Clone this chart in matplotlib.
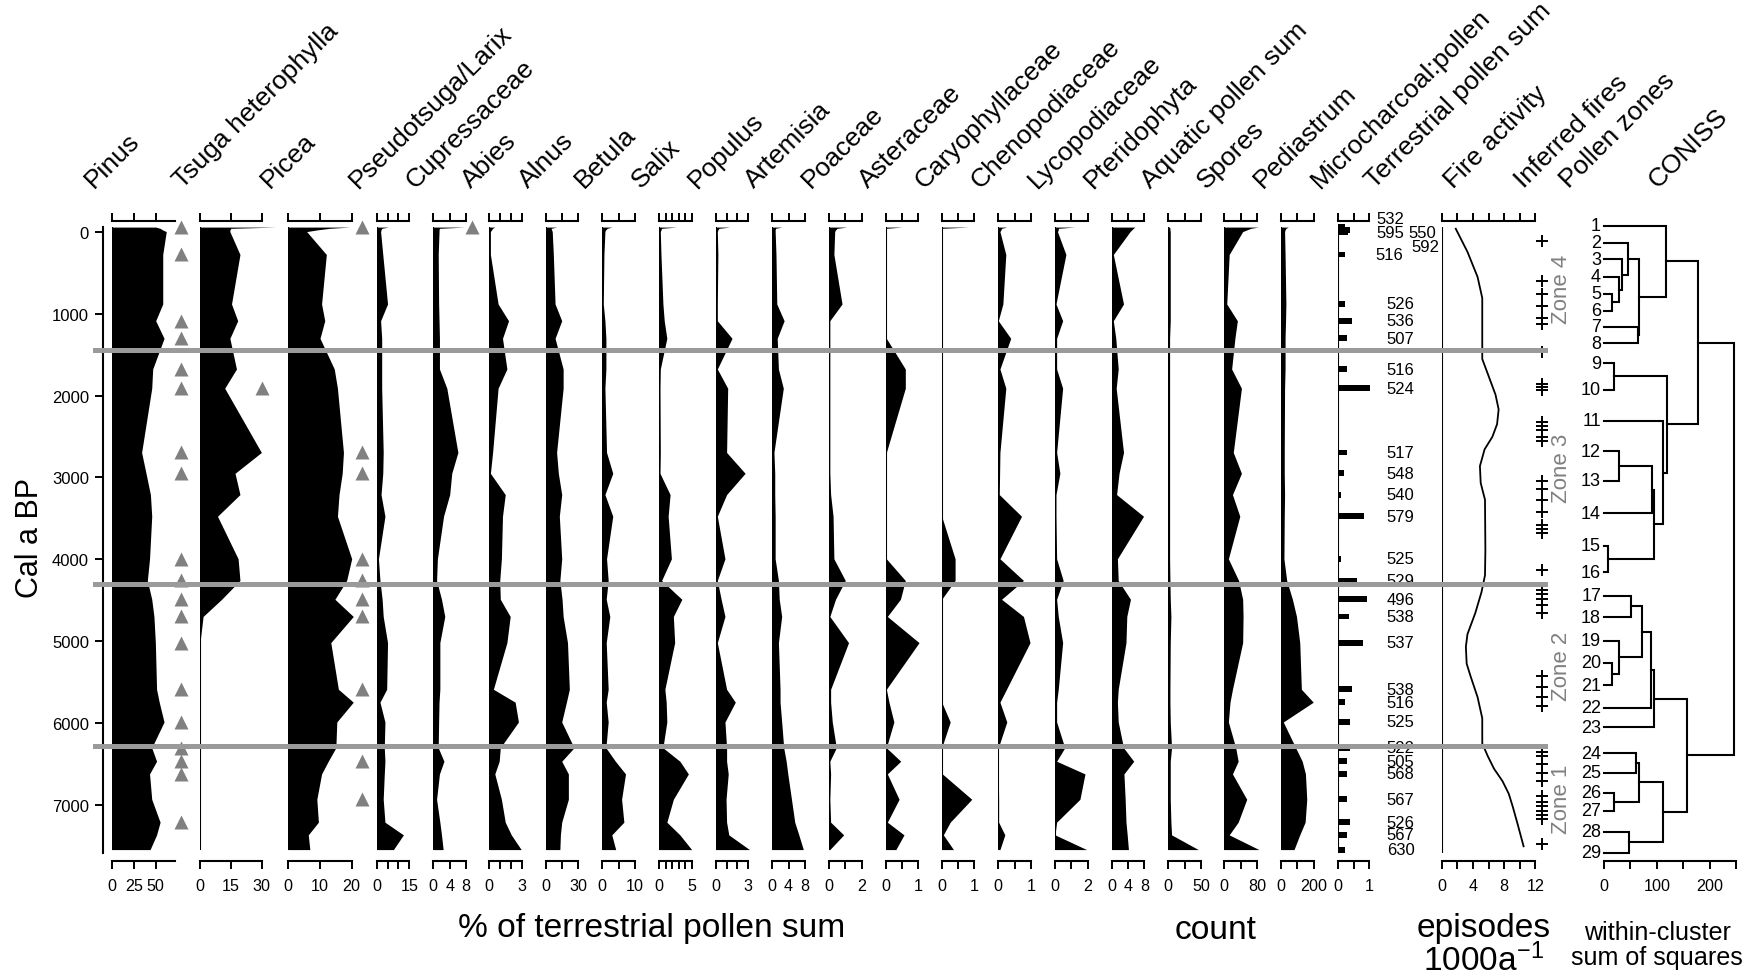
import matplotlib
matplotlib.use("Agg")
import matplotlib.pyplot as plt
from matplotlib import font_manager as fm
from matplotlib.transforms import blended_transform_factory as blend

# ---------------------------------------------------------------- data
ages = [-60, -45, -25, -5, 275, 880, 1085, 1300, 1675, 1910, 2695, 2950, 3210, 3475,
        3995, 4260, 4490, 4700, 5020, 5590, 5748, 5990, 6305, 6470, 6625, 6935, 7215,
        7370, 7550]

pinus = [50, 55, 58, 62, 58, 58, 50, 59.5, 46.6, 45.5, 34, 39, 44, 45.5, 43, 40.5, 45.5,
         48, 49.6, 51, 54, 59.5, 45.5, 51, 43, 45.5, 55, 51, 43.6]
tsuga = [37, 15, 14.5, 14.5, 19.4, 15.3, 18.3, 14.5, 17.7, 12, 29.8, 17, 19.4, 8.5, 18.5,
         19.4, 10.5, 1.5, 0, 0, 0, 0, 0, 0, 0, 0, 0, 0, 0]
picea = [19.5, 13, 9, 5.8, 12, 10.5, 11.5, 10, 14.5, 15.5, 17.4, 17, 16, 15.5, 20, 18.4,
         14.7, 20.5, 13.4, 15.8, 20.5, 15.3, 15, 12.6, 10.5, 9, 9.5, 6.3, 6.8]
pseudotsuga = [5.4, 2.3, 2.0, 1.8, 2.8, 5.0, 1.8, 2.3, 2.3, 2.3, 3.0, 2.8, 2.0, 3.8, 0.8,
               1.5, 2.5, 3.0, 5.0, 4.6, 1.5, 3.8, 3.5, 3.8, 3.5, 3.0, 3.8, 12.3, 7.7]
cupressaceae = [7.6, 1.5, 1.4, 1.4, 1.2, 1.3, 1.4, 1.5, 1.5, 3.3, 6.0, 4.5, 4.0, 2.5, 1.0,
                0.8, 2.0, 2.8, 1.6, 1.6, 1.4, 1.3, 1.2, 2.6, 1.5, 0.8, 1.6, 2.0, 2.4]
abies = [0.5, 0.3, 0.2, 0.1, 0.1, 0.8, 1.75, 1.2, 1.6, 0.8, 0.3, 0.1, 1.45, 1.2, 1.1, 0.95,
         1.0, 1.9, 1.6, 0.37, 2.35, 2.65, 1.0, 0.9, 0.5, 1.1, 1.45, 2.0, 2.9]
alnus = [10, 5, 5.5, 6, 7, 8.6, 14.7, 8.6, 16, 16, 10, 11.6, 14.7, 12.5, 14.7, 13, 15, 16,
         20, 21.7, 19, 14.7, 26, 14.7, 20.8, 20.8, 14.7, 13.5, 13]
betula = [2.9, 1.5, 1.0, 0.8, 0.5, 0.3, 0.8, 1.1, 1.1, 0.8, 1.3, 3.2, 0.8, 3.2, 1.3, 1.8,
          1.2, 2.3, 1.2, 1.8, 1.2, 1.8, 1.1, 4.0, 7.1, 5.9, 6.6, 2.9, 4.1]
salix = [2.7, 0.4, 0.3, 0.2, 0.3, 0.6, 0.8, 1.2, 0.2, 0.15, 0.2, 0.15, 1.7, 1.4, 1.9, 0.4,
         3.5, 2.2, 2.4, 0.9, 1.1, 1.2, 0.6, 3.2, 4.5, 2.2, 1.2, 3.2, 5.0]
populus = [1.3, 0.3, 0.2, 0.15, 0.2, 0.15, 0.15, 1.5, 0.15, 1.1, 1.0, 2.7, 1.0, 0.15, 0.85,
           0.15, 0.5, 0.85, 0.15, 1.0, 1.8, 0.85, 1.0, 1.0, 1.15, 0.95, 1.0, 1.2, 3.1]
artemisia = [2.3, 0.8, 0.7, 0.7, 0.9, 1.1, 2.9, 1.2, 1.5, 2.7, 0.4, 0.6, 0.6, 0.7, 0.7, 1.5,
             1.7, 2.3, 1.5, 1.9, 1.9, 2.3, 2.8, 3.4, 3.8, 4.7, 5.5, 6.5, 7.6]
poaceae = [1.1, 0.5, 0.4, 0.35, 0.3, 0.8, 0.05, 0.05, 0.05, 0.05, 0.05, 0.05, 0.1, 0.25, 0.3,
           1.0, 0.4, 0.05, 1.2, 0.1, 0.1, 0.2, 0.45, 0.05, 0.1, 0.05, 0.1, 0.9, 0.05]
asteraceae = [0.5, 0.02, 0.02, 0.02, 0.02, 0.02, 0.02, 0.02, 0.6, 0.6, 0.02, 0.02, 0.02,
              0.02, 0.02, 0.6, 0.45, 0.05, 1.02, 0.02, 0.1, 0.25, 0.02, 0.46, 0.05, 0.41,
              0.05, 0.56, 0.31]
caryophyllaceae = [0.82, 0, 0, 0, 0, 0, 0, 0, 0, 0, 0, 0, 0, 0, 0.41, 0.41, 0, 0, 0, 0, 0,
                   0.26, 0, 0, 0.02, 0.92, 0.26, 0.05, 0.36]
chenopodiaceae = [0.26, 0.1, 0.08, 0.05, 0.23, 0.14, 0.0, 0.38, 0.05, 0.23, 0.05, 0.04,
                  0.03, 0.71, 0.05, 0.77, 0.1, 0.77, 0.97, 0.25, 0.05, 0.26, 0.0, 0.0, 0.0,
                  0.01, 0.01, 0.2, 0.05]
lycopodiaceae = [1.2, 0.2, 0.2, 0.15, 0.67, 0.06, 0.47, 0.1, 0.1, 0.47, 0.1, 0.3, 0.06,
                 0.06, 0.1, 0.5, 0.1, 0.2, 0.47, 0.2, 0.1, 0.1, 0.6, 0.1, 1.84, 1.53, 0.1,
                 0.0, 1.94]
pteridophyta = [5.7, 5.3, 4.9, 4.5, 0.4, 2.9, 0.4, 1.0, 1.6, 1.1, 2.9, 1.8, 1.2, 7.8, 1.4,
                1.6, 4.6, 3.7, 3.5, 1.6, 1.4, 1.6, 2.9, 5.4, 3.0, 3.3, 3.5, 3.8, 4.1]
aquatic = [2, 2.5, 2.5, 3, 3, 3, 3, 2, 2, 2, 2, 2, 2, 2, 2, 2.5, 3, 4, 3, 2.5, 2.5, 3, 5, 3,
           3, 3, 4, 5, 46]
spores = [83, 65, 55, 45, 12, 6, 32, 26, 18, 42, 22, 42, 20, 38, 10, 35, 45, 46, 45, 20, 14,
          10, 28, 34, 20, 55, 34, 12, 85]
pediastrum = [45, 30, 25, 22, 25, 30, 28, 25, 25, 22, 20, 20, 22, 20, 18, 35, 70, 95, 115,
              125, 198, 14, 90, 130, 150, 158, 148, 115, 80]
microcharcoal = [0.22, 0.22, 0.38, 0.3, 0.22, 0.22, 0.43, 0.27, 0.27, 1.02, 0.27, 0.19,
                 0.09, 0.83, 0.09, 0.6, 0.92, 0.34, 0.81, 0.43, 0.22, 0.38, 0.38, 0.27,
                 0.27, 0.27, 0.38, 0.27, 0.22]
terrestrial_sum = [532, 595, 550, 592, 516, 526, 536, 507, 516, 524, 517, 548, 540, 579,
                   525, 529, 496, 538, 537, 538, 516, 525, 522, 505, 568, 567, 526, 567, 630]

# samples (0-based) marked with grey triangles
pinus_marks = [0, 4, 6, 7, 8, 9, 10, 11, 14, 15, 16, 17, 18, 19, 21, 22, 23, 24, 26]
tsuga_marks = [9]
picea_marks = [0, 10, 11, 14, 15, 16, 17, 19, 23, 25]
cupress_marks = [0]

fire_ages = [-40, 242, 550, 807, 1553, 1732, 1989, 2169, 2349, 2503, 2657, 2862, 3068,
             3273, 3889, 4197, 4403, 4660, 4917, 5071, 5277, 5430, 5687, 5944, 6252, 6406,
             6560, 6714, 6868, 7022, 7227, 7510]
fire_activity = [1.8, 3.3, 4.6, 5.2, 5.2, 5.9, 6.9, 7.3, 7.1, 6.5, 5.5, 4.9, 5.0, 5.55,
                 5.6, 5.55, 5.1, 4.3, 3.3, 3.1, 3.2, 3.7, 4.6, 5.2, 5.2, 5.9, 6.7, 7.8, 8.6,
                 9.1, 9.7, 10.5]
inferred_fires = [114, 601, 755, 900, 1054, 1126, 1465, 1860, 1896, 1937, 2323, 2374, 2425,
                  2503, 2554, 3042, 3144, 3273, 3427, 3581, 3632, 3674, 4136, 4378, 4429,
                  4481, 4558, 4660, 5430, 5559, 5688, 5790, 6354, 6406, 6509, 6611, 6715,
                  6894, 6971, 7022, 7073, 7125, 7176, 7484]

zone_bounds = [1445, 4300, 6285]
zone_names = ["Zone 4", "Zone 3", "Zone 2", "Zone 1"]

leaf_ages = [-76, 130, 335, 550, 756, 961, 1157, 1362, 1604, 1927, 2307, 2682, 3042, 3438,
             3838, 4162, 4444, 4711, 4994, 5266, 5543, 5815, 6056, 6370, 6611, 6858, 7073,
             7330, 7588]
# merges: [child a, child b, height]; ids >= 29 are earlier merges
merges = [[4, 5, 14.6], [3, 29, 29], [2, 30, 33.5], [1, 31, 46], [6, 7, 65],
          [32, 33, 66.9], [0, 34, 117.4], [8, 9, 19.5], [11, 12, 29], [37, 13, 90.3],
          [14, 15, 8.1], [38, 39, 94.7], [10, 40, 111.2], [36, 41, 118.7], [35, 42, 178.6],
          [16, 17, 50.6], [19, 20, 14.6], [18, 45, 29], [44, 46, 71.4], [47, 21, 88.4],
          [48, 22, 94.7], [23, 24, 60.6], [25, 26, 19.5], [50, 51, 66.9], [27, 28, 47.9],
          [52, 53, 112.3], [49, 54, 156.6], [43, 55, 246.2]]

# ---------------------------------------------------------------- style
W, H = 1758, 979
TOP_PX, BOT_PX = 222, 862
Y0_PX, PX_PER_YR = 233, 0.0818
YLIM = ((BOT_PX - Y0_PX) / PX_PER_YR, (TOP_PX - Y0_PX) / PX_PER_YR)


def has_font(name):
    try:
        fm.findfont(fm.FontProperties(family=name), fallback_to_default=False)
        return True
    except Exception:
        return False


REG = "Liberation Sans"
HAVE_NARROW = has_font("Liberation Sans Narrow")
NARROW = "Liberation Sans Narrow" if HAVE_NARROW else REG
NS = 1.0 if HAVE_NARROW else 0.86   # size factor when narrow face is missing
plt.rcParams["font.family"] = [REG, "DejaVu Sans"]
plt.rcParams["mathtext.fontset"] = "custom"
plt.rcParams["mathtext.rm"] = NARROW
plt.rcParams["mathtext.it"] = NARROW
plt.rcParams["mathtext.bf"] = NARROW

LW = 1.5
GREY = "#808080"

fig = plt.figure(figsize=(W / 100, H / 100), dpi=100)


def add_panel(left_px, width_px):
    ax = fig.add_axes([left_px / W, 1 - BOT_PX / H, width_px / W, (BOT_PX - TOP_PX) / H])
    ax.set_ylim(*YLIM)
    ax.patch.set_visible(False)
    ax.set_yticks([])
    return ax


def style_bracket(ax, ticks, labels, top=True):
    ax.spines["left"].set_visible(False)
    ax.spines["right"].set_visible(False)
    ax.spines["top"].set_visible(top)
    for s in ("top", "bottom"):
        ax.spines[s].set_linewidth(LW)
    ax.set_xticks(ticks)
    ax.set_xticklabels(labels, fontfamily=NARROW, fontsize=13.5 * NS)
    ax.tick_params(axis="x", top=top, bottom=True, labeltop=False, labelbottom=True,
                   direction="out", length=6, width=1.4, pad=6.5)


# header, values, zero_px, px per unit, axis max, ticks, tick labels, triangles
panels = [
    ("Pinus", pinus, 111.7, 0.88, 72, [0, 25, 50], ["0", "25", "50"], (pinus_marks, 69)),
    ("Tsuga heterophylla", tsuga, 200, 2.06, 30, [0, 15, 30], ["0", "15", "30"], (tsuga_marks, 62)),
    ("Picea", picea, 288.3, 3.17, 20, [0, 10, 20], ["0", "10", "20"], (picea_marks, 73.4)),
    ("Pseudotsuga/Larix", pseudotsuga, 376.7, 2.17, 15, [0, 5, 10, 15], ["0", "", "", "15"], None),
    ("Cupressaceae", cupressaceae, 433.3, 4.1, 8, [0, 4, 8], ["0", "4", "8"], (cupress_marks, 38.4)),
    ("Abies", abies, 489.3, 11.0, 3, [0, 1, 2, 3], ["0", "", "", "3"], None),
    ("Alnus", alnus, 545.7, 1.09, 30, [0, 15, 30], ["0", "", "30"], None),
    ("Betula", betula, 602.3, 3.27, 10, [0, 5, 10], ["0", "", "10"], None),
    ("Salix", salix, 659, 6.53, 5, [0, 1, 2, 3, 4, 5], ["0", "", "", "", "", "5"], None),
    ("Populus", populus, 715.7, 10.9, 3, [0, 1, 2, 3], ["0", "", "", "3"], None),
    ("Artemisia", artemisia, 772.3, 4.08, 8, [0, 4, 8], ["0", "4", "8"], None),
    ("Poaceae", poaceae, 829, 16.3, 2, [0, 1, 2], ["0", "", "2"], None),
    ("Asteraceae", asteraceae, 885.7, 32.7, 1, [0, 0.5, 1], ["0", "", "1"], None),
    ("Caryophyllaceae", caryophyllaceae, 941.7, 32.7, 1, [0, 0.5, 1], ["0", "", "1"], None),
    ("Chenopodiaceae", chenopodiaceae, 998.3, 32.7, 1, [0, 0.5, 1], ["0", "", "1"], None),
    ("Lycopodiaceae", lycopodiaceae, 1055, 16.3, 2, [0, 1, 2], ["0", "", "2"], None),
    ("Pteridophyta", pteridophyta, 1111.7, 4.08, 8, [0, 4, 8], ["0", "4", "8"], None),
    ("Aquatic pollen sum", aquatic, 1168.3, 0.653, 50, [0, 25, 50], ["0", "", "50"], None),
    ("Spores", spores, 1224.3, 0.408, 80, [0, 40, 80], ["0", "", "80"], None),
    ("Pediastrum", pediastrum, 1281, 0.163, 200, [0, 100, 200], ["0", "", "200"], None),
]

HEADER_Y = 189
HEADER_KW = dict(rotation=45, rotation_mode="anchor", ha="left", va="baseline",
                 fontsize=19, family=REG)

for name, vals, zero, ppu, axmax, ticks, labels, tri in panels:
    ax = add_panel(zero, ppu * axmax)
    ax.set_xlim(0, axmax)
    ax.fill_betweenx(ages, 0, vals, color="black", lw=0, clip_on=False)
    ax.vlines(0, ages[0], ages[-1], color="black", lw=LW)
    style_bracket(ax, ticks, labels)
    if tri is not None:
        idx, off_px = tri
        ax.plot([off_px / ppu] * len(idx), [ages[i] for i in idx], "^", color=GREY,
                ms=10.5, mec="none", clip_on=False)
    fig.text((zero - 18) / W, 1 - HEADER_Y / H, name, **HEADER_KW)

# microcharcoal bars + terrestrial pollen sums
MZ, MPPU = 1338.3, 31.0
axm = add_panel(MZ, MPPU * 1)
axm.set_xlim(0, 1)
axm.barh(ages, microcharcoal, height=72, color="black", clip_on=False)
axm.vlines(0, ages[0], ages[-1] + 40, color="black", lw=LW)
style_bracket(axm, [0, 0.5, 1], ["0", "", "1"])
fig.text((MZ - 18) / W, 1 - HEADER_Y / H, "Microcharcoal:pollen", **HEADER_KW)

tr = blend(fig.transFigure, axm.transData)
label_layout = {0: (1376, -159), 1: (1376, 11), 2: (1408, 11), 3: (1411, 181),
                4: (1375, 279)}
for i, v in enumerate(terrestrial_sum):
    xpx, yage = label_layout.get(i, (1386.7, ages[i]))
    axm.text(xpx / W, yage, str(v), transform=tr, ha="left", va="center", fontsize=12,
             family=REG, clip_on=False)
fig.text(1374.4 / W, 1 - HEADER_Y / H, "Terrestrial pollen sum", **HEADER_KW)

# fire activity
FZ, FPPU = 1441.7, 7.8
axf = add_panel(FZ, FPPU * 12)
axf.set_xlim(0, 12)
axf.plot(fire_activity, fire_ages, color="black", lw=1.3)
axf.vlines(0, ages[0], ages[-1] + 40, color="black", lw=LW)
style_bracket(axf, [0, 2, 4, 6, 8, 10, 12], ["0", "", "4", "", "8", "", "12"])
axf.plot([(1541.7 - FZ) / FPPU] * len(inferred_fires), inferred_fires, "+", color="black",
         ms=8, mew=1.4, clip_on=False)
fig.text(1453 / W, 1 - HEADER_Y / H, "Fire activity", **HEADER_KW)
fig.text(1524 / W, 1 - HEADER_Y / H, "Inferred fires", **HEADER_KW)
fig.text(1569 / W, 1 - HEADER_Y / H, "Pollen zones", **HEADER_KW)

# zone labels
edges = [ages[0]] + zone_bounds + [ages[-1]]
trz = blend(fig.transFigure, axf.transData)
for k, zn in enumerate(zone_names):
    axf.text(1562 / W, (edges[k] + edges[k + 1]) / 2, zn, transform=trz, rotation=90,
             ha="center", va="center", fontsize=16, color=GREY, family=REG)

# CONISS dendrogram
CZ, CPPU = 1604, 0.528
axc = add_panel(CZ, CPPU * 250)
axc.set_xlim(0, 250)
pos = {i: (0.0, leaf_ages[i]) for i in range(len(leaf_ages))}
for k, (a, b, h) in enumerate(merges):
    xa, ya = pos[a]
    xb, yb = pos[b]
    axc.plot([xa, h, h, xb], [ya, ya, yb, yb], color="black", lw=LW,
             solid_joinstyle="miter", clip_on=False)
    pos[len(leaf_ages) + k] = (h, (ya + yb) / 2)
for i, a in enumerate(leaf_ages):
    axc.text(-5.5, a, str(i + 1), ha="right", va="center", fontsize=13, family=REG,
             clip_on=False)
style_bracket(axc, [0, 50, 100, 150, 200, 250], ["0", "", "100", "", "200", ""], top=False)
fig.text(1657.5 / W, 1 - HEADER_Y / H, "CONISS", **HEADER_KW)

# age axis
axy = add_panel(103, 1)
for s in ("top", "right", "bottom"):
    axy.spines[s].set_visible(False)
axy.spines["left"].set_linewidth(LW)
axy.spines["left"].set_bounds(ages[0], ages[-1] + 40)
axy.set_xticks([])
axy.set_yticks(range(0, 8000, 1000))
axy.tick_params(axis="y", direction="out", length=6, width=1.4, pad=4, labelsize=12)
fig.text(30 / W, 1 - 538 / H, "Cal a BP", rotation=90, ha="center", va="center",
         fontsize=22, family=REG)

# zone boundary lines on top of everything
axo = add_panel(93, 1548 - 93)
axo.set_axis_off()
axo.set_zorder(20)
for zb in zone_bounds:
    axo.axhline(zb, color="#9a9a9a", lw=3.6)

# bottom captions
BIG = 28 * NS
fig.text(652 / W, 1 - 937 / H, "% of terrestrial pollen sum", ha="center", va="baseline",
         fontsize=BIG, family=NARROW)
fig.text(1216 / W, 1 - 939 / H, "count", ha="center", va="baseline", fontsize=BIG,
         family=NARROW)
fig.text(1484 / W, 1 - 937 / H, "episodes", ha="center", va="baseline", fontsize=BIG,
         family=NARROW)
fig.text(1484 / W, 1 - 971 / H, r"1000a$^{-1}$", ha="center", va="baseline",
         fontsize=BIG, family=NARROW)
fig.text(1657 / W, 1 - 940 / H, "within-cluster", ha="center", va="baseline",
         fontsize=21 * NS, family=NARROW)
fig.text(1657 / W, 1 - 965 / H, "sum of squares", ha="center", va="baseline",
         fontsize=21 * NS, family=NARROW)

fig.savefig("out.png", dpi=100, facecolor="white")
